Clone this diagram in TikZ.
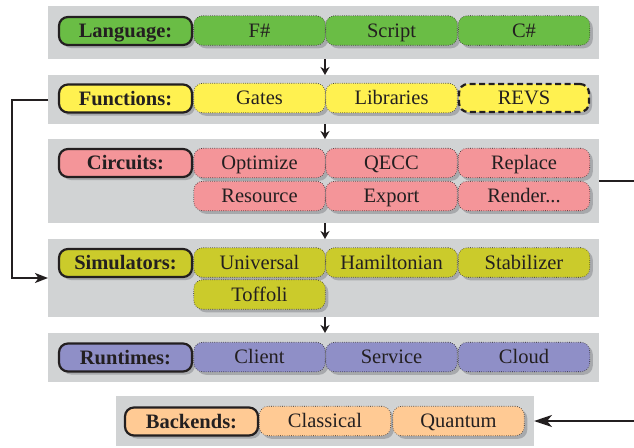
\documentclass[tikz,border=0pt]{standalone}
\usepackage{fontspec}
\setmainfont{Liberation Serif}
\usetikzlibrary{shadows,arrows.meta}

\definecolor{ink}{HTML}{231F20}
\definecolor{panelgray}{HTML}{D1D3D4}
\definecolor{shadowgray}{HTML}{A7A9AC}
\definecolor{langgreen}{HTML}{6ABD45}
\definecolor{funcyellow}{HTML}{FFF150}
\definecolor{circpink}{HTML}{F49599}
\definecolor{simolive}{HTML}{CBCB2B}
\definecolor{runlav}{HTML}{8F8FC7}
\definecolor{backorange}{HTML}{FFCA94}

\newcommand\boxfont{\fontsize{20.5}{24}\selectfont}

\tikzset{
  panel/.style={fill=panelgray, draw=none, inner sep=0pt, outer sep=0pt},
  boxshadow/.style={drop shadow={shadow xshift=3pt, shadow yshift=-3pt, fill=shadowgray, opacity=1}},
  tag/.style={draw=ink, line width=2.2pt, rounded corners=9pt, minimum width=133pt,
    minimum height=28pt, inner sep=0pt, text height=15pt, text depth=2pt,
    font=\boxfont\bfseries, text=ink, boxshadow},
  item/.style={draw=ink, line width=0.6pt, dash pattern=on 0.6pt off 1.6pt,
    rounded corners=9pt, minimum width=131.5pt, minimum height=29.5pt, inner sep=0pt,
    text height=15pt, text depth=2pt, font=\boxfont, text=ink, boxshadow},
  ext/.style={item, line width=2.2pt, dash pattern=on 6pt off 3.5pt, minimum width=130pt, minimum height=28pt},
  flow/.style={draw=ink, line width=1.4pt, -{Stealth[length=8pt, width=9pt, inset=2.5pt]}},
  link/.style={draw=ink, line width=2pt, -{Stealth[length=13pt, width=10pt, inset=3.5pt]}},
  longlink/.style={draw=ink, line width=2pt, -{Stealth[length=18pt, width=12pt, inset=5pt]}},
}

\begin{document}
\begin{tikzpicture}[x=1pt, y=-1pt]
\useasboundingbox (0,0) rectangle (634,447);

% layer panels
\node[panel, minimum width=551pt, minimum height=53pt] (pLang) at (323.5,32.5) {};
\node[panel, minimum width=551pt, minimum height=49pt] (pFunc) at (323.5,99.5) {};
\node[panel, minimum width=551pt, minimum height=84pt] (pCirc) at (323.5,181) {};
\node[panel, minimum width=551pt, minimum height=78pt] (pSim)  at (323.5,278) {};
\node[panel, minimum width=551pt, minimum height=49pt] (pRun)  at (323.5,357.5) {};
\node[panel, minimum width=418pt, minimum height=50pt] (pBack) at (325,421) {};

% Language
\node[tag, fill=langgreen] (tLang) at (125.5,31) {Language:};
\node[item, fill=langgreen] (lF)  at (259.5,30.5) {F\#};
\node[item, fill=langgreen] (lS)  at (391.5,30.5) {Script};
\node[item, fill=langgreen] (lC)  at (524,30.5) {C\#};

% Functions
\node[tag, fill=funcyellow] (tFunc) at (125.5,98.5) {Functions:};
\node[item, fill=funcyellow] (fG) at (259.5,98) {Gates};
\node[item, fill=funcyellow] (fL) at (391.5,98) {Libraries};
\node[ext, fill=funcyellow]  (fR) at (524,98) {REVS};

% Circuits
\node[tag, fill=circpink] (tCirc) at (125.5,163) {Circuits:};
\node[item, fill=circpink] (cO) at (259.5,163) {Optimize};
\node[item, fill=circpink] (cQ) at (391.5,163) {QECC};
\node[item, fill=circpink] (cP) at (524,163) {Replace};
\node[item, fill=circpink] (cR) at (259.5,196) {Resource};
\node[item, fill=circpink] (cE) at (391.5,196) {Export};
\node[item, fill=circpink] (cD) at (524,196) {Render...};

% Simulators
\node[tag, fill=simolive] (tSim) at (125.5,263) {Simulators:};
\node[item, fill=simolive] (sU) at (259.5,262.5) {Universal};
\node[item, fill=simolive] (sH) at (391.5,262.5) {Hamiltonian};
\node[item, fill=simolive] (sS) at (524,262.5) {Stabilizer};
\node[item, fill=simolive] (sT) at (259.5,294.5) {Toffoli};

% Runtimes
\node[tag, fill=runlav] (tRun) at (125.5,357.5) {Runtimes:};
\node[item, fill=runlav] (rC) at (259.5,357) {Client};
\node[item, fill=runlav] (rS) at (391.5,357) {Service};
\node[item, fill=runlav] (rD) at (524,357) {Cloud};

% Backends
\node[tag, fill=backorange] (tBack) at (191.5,421.5) {Backends:};
\node[item, fill=backorange] (bC) at (325,421) {Classical};
\node[item, fill=backorange] (bQ) at (458.5,421) {Quantum};

% connectors
\coordinate (ax) at (325,0);
\draw[flow] (pLang.south -| ax) -- (pFunc.north -| ax);
\draw[flow] (pFunc.south -| ax) -- (pCirc.north -| ax);
\draw[flow] (pCirc.south -| ax) -- (pSim.north -| ax);
\draw[flow] (pSim.south -| ax)  -- (pRun.north -| ax);

\draw[link] (pFunc.west) -- ++(-36.5,0) |- (pSim.west);
\draw[longlink] (pCirc.east) -- ++(70,0) |- (pBack.east);
\end{tikzpicture}
\end{document}
